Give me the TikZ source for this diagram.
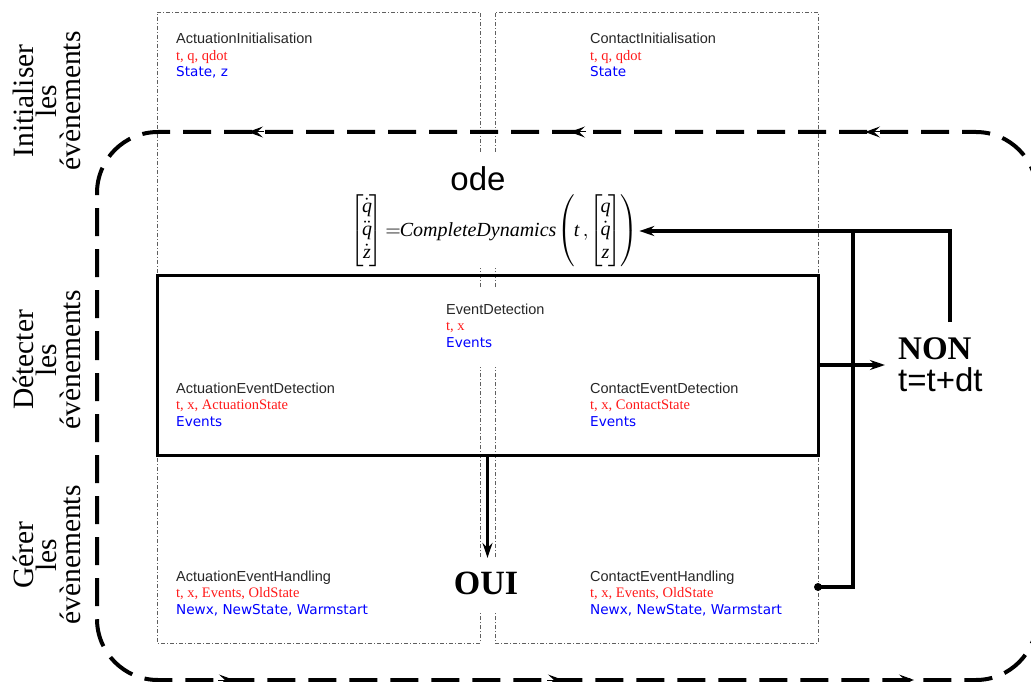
\documentclass[tikz,border=0pt]{standalone}
\usepackage{fontspec}
\setmainfont{Liberation Serif}
\newfontfamily\sansf{Liberation Sans}
\newfontfamily\dejav{DejaVu Sans}
\usepackage{amsmath}
\usetikzlibrary{arrows.meta}
\definecolor{inred}{RGB}{255,25,25}
\definecolor{outblue}{RGB}{0,0,255}
\definecolor{ddgray}{RGB}{95,95,95}
\newcommand\evblock[6]{%
  \node[ttl] (#1-t) at (#2,#3) {#4};
  \node[inp] (#1-i) at (#2,#3+16.5) {#5};
  \node[outp] (#1-o) at (#2,#3+33) {#6};}
\newcommand\colvec[3]{\left[\mkern-2mu\begin{matrix}#1\\ #2\\ #3\end{matrix}\mkern-2mu\right]}
\begin{document}
\begin{tikzpicture}[x=1pt,y=-1pt,
  ttl/.style={anchor=base west,inner sep=0,font=\sansf\fontsize{14.5}{16}\selectfont,text=black!85},
  inp/.style={anchor=base west,inner sep=0,font=\fontsize{14.5}{16}\selectfont,text=inred},
  outp/.style={anchor=base west,inner sep=0,font=\dejav\fontsize{13.6}{16}\selectfont,text=outblue},
  side/.style={rotate=90,align=center,inner sep=0,font=\fontsize{29.5}{23.5}\selectfont},
  dd/.style={draw=ddgray,line width=0.8pt,dash pattern=on 4pt off 2pt on 1pt off 2pt},
  loopline/.style={line width=4pt,dash pattern=on 28pt off 13pt},
  looptip/.style={line width=1pt,-{Stealth[length=15pt,width=11pt,inset=6pt]}},
  conn/.style={line width=3.5pt},
  tip/.style={-{Stealth[length=15pt,width=10pt,inset=5pt]}}]
\useasboundingbox (0,0) rectangle (1031,682);

% dash-dot column boxes
\draw[dd] (480,152) -- (480,12) -- (157,12) -- (157,643) -- (480,643) -- (480,612);
\draw[dd] (480,557) -- (480,367);
\draw[dd] (480,287) -- (480,268);
\draw[dd] (495,152) -- (495,12) -- (818,12) -- (818,643) -- (495,643) -- (495,612);
\draw[dd] (495,557) -- (495,367);
\draw[dd] (495,287) -- (495,268);

% dashed loop
\draw[loopline, rounded corners=61pt] (97,420) -- (97,132) -- (1037,132) -- (1037,680) -- (97,680) -- cycle;
\draw[looptip] (264,132) -- (248,132);
\draw[looptip] (586,132) -- (570,132);
\draw[looptip] (881,132) -- (865,132);
\draw[looptip] (218,680) -- (234,680);
\draw[looptip] (547,680) -- (563,680);
\draw[looptip] (898,680) -- (914,680);

% side labels
\node[side] (lab1) at (46.5,101) {Initialiser\\les\\évènements};
\node[side] (lab2) at (46.5,360) {Détecter\\les\\évènements};
\node[side] (lab3) at (46.5,555) {Gérer\\les\\évènements};

% text blocks
\evblock{ai}{176}{44}{ActuationInitialisation}{t, q, qdot}{State, z}
\evblock{ci}{590}{44}{ContactInitialisation}{t, q, qdot}{State}
\evblock{ed}{446}{314}{EventDetection}{t, x}{Events}
\evblock{aed}{176}{393}{ActuationEventDetection}{t, x, ActuationState}{Events}
\evblock{ced}{590}{393}{ContactEventDetection}{t, x, ContactState}{Events}
\evblock{aeh}{176}{581}{ActuationEventHandling}{t, x, Events, OldState}{Newx, NewState, Warmstart}
\evblock{ceh}{590}{581}{ContactEventHandling}{t, x, Events, OldState}{Newx, NewState, Warmstart}

% ode
\node[font=\sansf\fontsize{33}{33}\selectfont, anchor=base, inner sep=0] (ode) at (478,190) {ode};
\node[inner sep=1pt] (eq) at (494.5,231) {\scalebox{2}{\fontsize{10}{12}\selectfont\def\arraystretch{0.95}$\colvec{\dot{\mathit{q}}}{\ddot{\mathit{q}}}{\dot{\mathit{z}}}\mkern-1mu{=}\mkern-1mu\mathit{CompleteDynamics}\mkern-2mu\left(\mkern-1mu\mathit{t}\,,\mkern-2mu\colvec{\mathit{q}}{\dot{\mathit{q}}}{\mathit{z}}\mkern-1mu\right)$}};

% detection box
\node[draw, line width=3pt, minimum width=661pt, minimum height=180pt, inner sep=0] (det) at (487.5,365) {};

% OUI / NON
\node[font=\bfseries\fontsize{34}{34}\selectfont, inner xsep=0, inner ysep=14pt] (oui) at (486,583.5) {OUI};
\node[anchor=west, align=left, inner xsep=13pt, inner ysep=0, font=\sansf\fontsize{33}{32}\selectfont] (non) at (885,365) {{\rmfamily\bfseries NON}\\t=t+dt};

% connectors
\coordinate (dot) at (818,587);
\coordinate (jn) at (853,231);
\coordinate (nonup) at (950,322);
\draw[conn,tip] (det.south) -- (det.south |- oui.north);
\draw[conn,tip] (det.east) -- (non.west);
\draw[conn] (dot) -| (jn);
\draw[conn,tip] (nonup) |- (eq.east);
\fill (dot) circle (4pt);
\end{tikzpicture}
\end{document}
